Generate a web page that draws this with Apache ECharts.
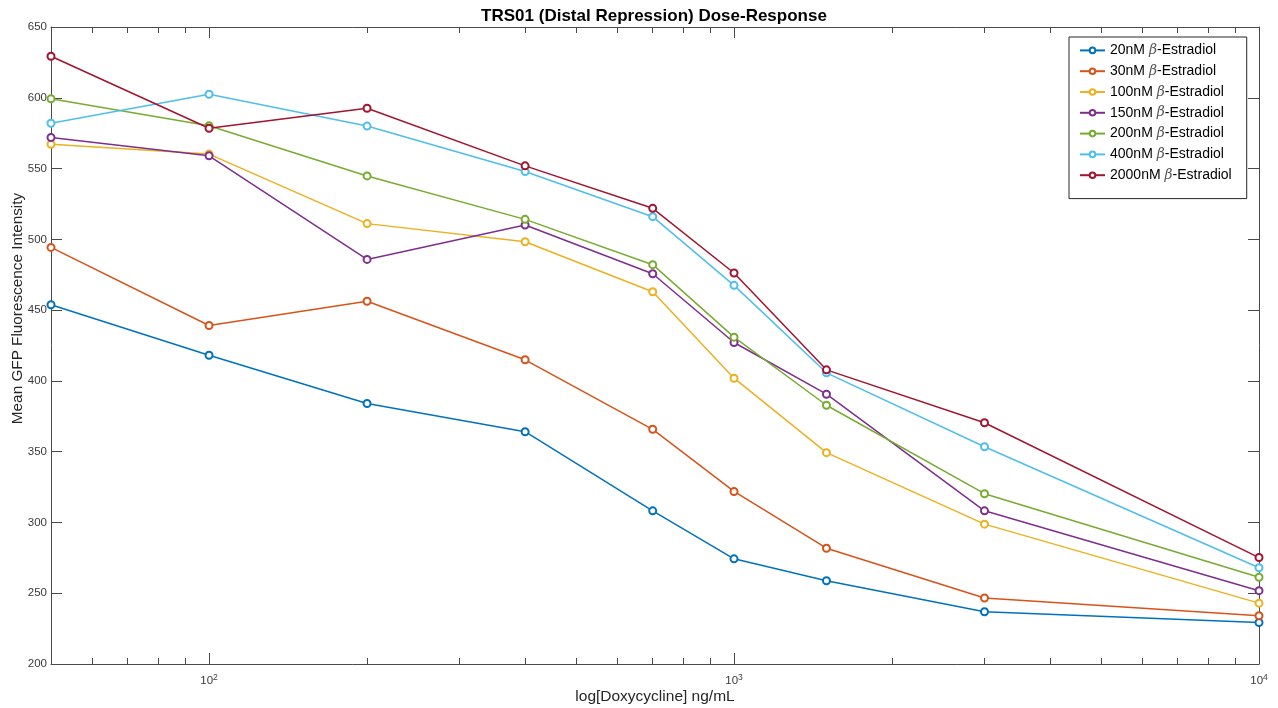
<!DOCTYPE html>
<html><head><meta charset="utf-8">
<script src="https://cdn.jsdelivr.net/npm/echarts@6/dist/echarts.min.js"></script>
<style>html,body{margin:0;padding:0;background:#fff}#c{width:1278px;height:708px}</style>
</head><body><div id="c"></div>
<script>
const doses = [50, 100, 200, 400, 700, 1000, 1500, 3000, 10000];
const seriesNames = ['20nM β-Estradiol','30nM β-Estradiol','100nM β-Estradiol','150nM β-Estradiol','200nM β-Estradiol','400nM β-Estradiol','2000nM β-Estradiol'];
const s20   = [453.8, 418.1, 384.0, 364.1, 308.2, 274.3, 258.8, 236.9, 229.3];
const s30   = [494.3, 439.1, 456.3, 414.9, 365.8, 321.9, 281.8, 246.6, 234.1];
const s100  = [567.2, 560.2, 511.1, 498.3, 463.0, 401.9, 349.3, 298.8, 243.0];
const s150  = [571.9, 559.0, 485.8, 510.1, 475.7, 427.1, 390.6, 308.2, 251.8];
const s200  = [599.3, 580.3, 544.8, 514.1, 482.1, 430.9, 382.8, 320.3, 261.3];
const s400  = [582.0, 602.5, 580.0, 547.9, 516.0, 467.5, 405.7, 353.5, 268.0];
const s2000 = [629.3, 578.5, 592.6, 551.9, 521.9, 476.2, 407.8, 370.4, 275.2];
const allValues = [s20, s30, s100, s150, s200, s400, s2000];
const colors = ['#0072BD','#D95319','#EDB120','#7E2F8E','#77AC30','#4DBEEE','#A2142F'];
const majorTicks = [100, 1000, 10000];
const minorTicks = [60,70,80,90,200,300,400,500,600,700,800,900,2000,3000,4000,5000,6000,7000,8000,9000];
const yTicks = [200,250,300,350,400,450,500,550,600,650];

const FONT = '"Liberation Sans", Arial, Helvetica, sans-serif';
const AX = '#4a4a4a';
const LBL = '#3a3a3a';
const chart = echarts.init(document.getElementById('c'), null, {renderer:'canvas'});

function xAxisDef(pos, ticks, len, showLine, showLabel) {
  return {
    type: 'log', logBase: 10, min: 50, max: 10000, position: pos,
    gridIndex: 0,
    axisLine: {show: showLine, lineStyle: {color: AX, width: 1}},
    axisTick: {show: true, inside: true, length: len, customValues: ticks, lineStyle: {color: AX, width: 1}},
    axisLabel: showLabel ? {
      show: true, customValues: majorTicks, margin: 9, color: LBL, fontFamily: FONT, fontSize: 11.5,
      formatter: function (v) { const e = Math.round(Math.log10(v)); return '{b|10}{s|' + e + '}'; },
      rich: {b: {fontSize: 11.5, color: LBL, fontFamily: FONT},
             s: {fontSize: 8.5, color: LBL, fontFamily: FONT, verticalAlign: 'top', padding: [0,0,7,0]}}
    } : {show: false},
    splitLine: {show: false}
  };
}

const option = {
  animation: false,
  backgroundColor: '#ffffff',
  title: {
    text: 'TRS01 (Distal Repression) Dose-Response',
    left: 649, top: 3, textAlign: 'center',
    textStyle: {fontFamily: FONT, fontSize: 17, fontWeight: 'bold', color: '#000'}
  },
  grid: {left: 51, right: 19, top: 27, bottom: 44, containLabel: false, outerBoundsMode: 'none'},
  legend: {
    orient: 'vertical', left: 1069, top: 37,
    backgroundColor: '#fff', borderColor: '#262626', borderWidth: 1,
    padding: [3, 15, 13, 10],
    itemWidth: 25, itemHeight: 7, itemGap: 0,
    data: seriesNames,
    textStyle: {fontFamily: FONT, fontSize: 14, color: '#000', lineHeight: 20.8,
      rich: {i: {fontFamily: '"DejaVu Serif", serif', fontStyle: 'italic', fontSize: 14, color: '#555', lineHeight: 20.8}}},
    formatter: function (n) { return n.replace('β', '{i|β}'); }
  },
  xAxis: [
    Object.assign(xAxisDef('bottom', majorTicks, 11, true, true), {
      name: 'log[Doxycycline] ng/mL', nameLocation: 'middle', nameGap: 25, nameMoveOverlap: false,
      nameTextStyle: {fontFamily: FONT, fontSize: 15.5, color: '#262626'}
    }),
    xAxisDef('bottom', minorTicks, 6, false, false),
    xAxisDef('top', majorTicks, 11, true, false),
    xAxisDef('top', minorTicks, 6, false, false)
  ],
  yAxis: [
    {
      type: 'value', min: 200, max: 650, interval: 50, position: 'left',
      name: 'Mean GFP Fluorescence Intensity', nameLocation: 'middle', nameGap: 26, nameMoveOverlap: false,
      nameTextStyle: {fontFamily: FONT, fontSize: 15.3, color: '#262626', padding: [0, 0, 0, 74]},
      axisLine: {show: true, lineStyle: {color: AX}},
      axisTick: {show: true, inside: true, length: 11, lineStyle: {color: AX}},
      axisLabel: {fontFamily: FONT, fontSize: 11.5, color: LBL, margin: 4},
      splitLine: {show: false}
    },
    {
      type: 'value', min: 200, max: 650, interval: 50, position: 'right',
      axisLine: {show: true, lineStyle: {color: AX}},
      axisTick: {show: true, inside: true, length: 11, lineStyle: {color: AX}},
      axisLabel: {show: false},
      splitLine: {show: false}
    }
  ],
  series: seriesNames.map(function (name, i) {
    return {
      name: name, type: 'line', xAxisIndex: 0, yAxisIndex: 0,
      data: doses.map(function (d, j) { return [d, allValues[i][j]]; }),
      symbol: 'emptyCircle', symbolSize: 7, showSymbol: true,
      color: colors[i],
      lineStyle: {width: 1.5, color: colors[i]},
      itemStyle: {color: colors[i], borderColor: colors[i], borderWidth: 1.2},
      emphasis: {disabled: true}
    };
  })
};
chart.setOption(option);
</script>
</body></html>
